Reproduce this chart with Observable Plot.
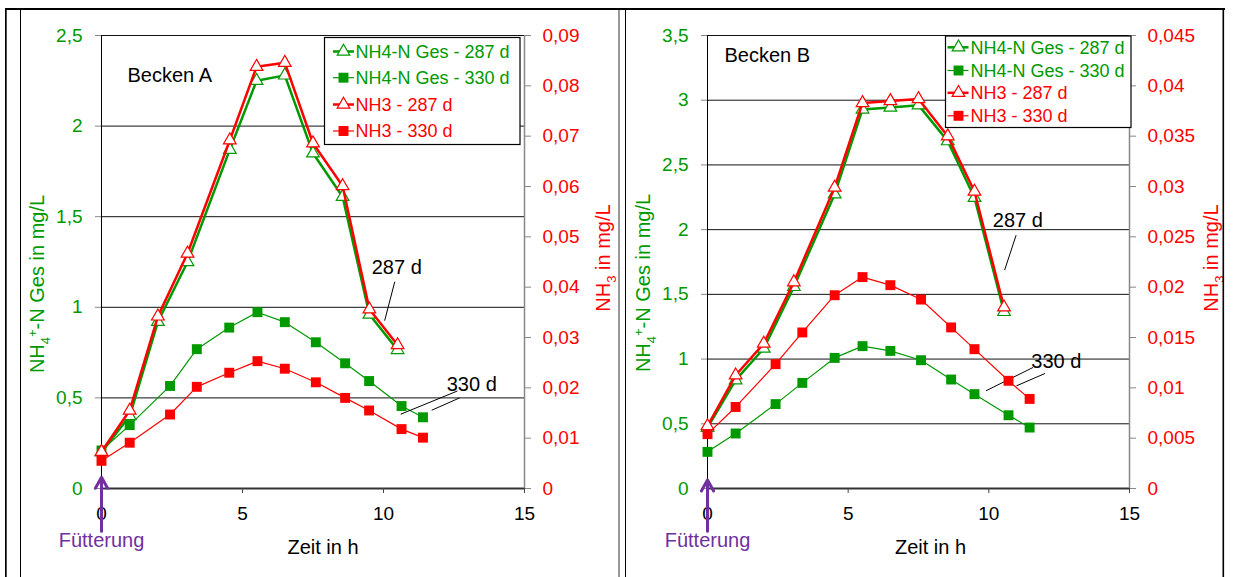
<!DOCTYPE html>
<html><head><meta charset="utf-8">
<script src="https://cdn.jsdelivr.net/npm/d3@7"></script>
<script src="https://cdn.jsdelivr.net/npm/@observablehq/plot@0.6"></script>
<style>
html,body{margin:0;padding:0;background:#fff;}
#root{position:relative;width:1237px;height:577px;overflow:hidden;font-family:"Liberation Sans",Arial,sans-serif;}
.abs{position:absolute;}
</style></head><body><div id="root"></div>
<script>
const GREEN = "#009900", RED = "#ff0000", PURPLE = "#7030a0";

// x axis
const xTicks = [0, 5, 10, 15];
const xTickLabels = ["0", "5", "10", "15"];

// Becken A
const tA287   = [0, 1.0, 2.0, 3.05, 4.55, 5.5, 6.5, 7.5, 8.55, 9.5, 10.5];
const nh4A287 = [0.2, 0.40, 0.92, 1.25, 1.87, 2.25, 2.28, 1.85, 1.61, 0.96, 0.765];
const nh3A287 = [0.0073, 0.0155, 0.0342, 0.0467, 0.0692, 0.0838, 0.0846, 0.0686, 0.0601, 0.0356, 0.0285];
const tA330   = [0, 1.0, 2.43, 3.38, 4.53, 5.53, 6.5, 7.6, 8.64, 9.49, 10.64, 11.4];
const nh4A330 = [0.21, 0.35, 0.566, 0.769, 0.888, 0.973, 0.918, 0.807, 0.691, 0.593, 0.455, 0.393];
const nh3A330 = [0.0055, 0.0091, 0.0147, 0.0202, 0.0230, 0.0253, 0.0238, 0.0211, 0.0180, 0.0155, 0.0118, 0.0101];

// Becken B
const tB287   = [0, 1.0, 2.0, 3.07, 4.52, 5.51, 6.5, 7.5, 8.54, 9.49, 10.54];
const nh4B287 = [0.47, 0.837, 1.082, 1.558, 2.274, 2.929, 2.944, 2.962, 2.684, 2.246, 1.365];
const nh3B287 = [0.0062, 0.01125, 0.0144, 0.0205, 0.0299, 0.0383, 0.0385, 0.0387, 0.035, 0.0295, 0.0180];
const tB330   = [0, 1.0, 2.42, 3.37, 4.52, 5.51, 6.5, 7.59, 8.66, 9.49, 10.7, 11.45];
const nh4B330 = [0.283, 0.425, 0.652, 0.816, 1.009, 1.10, 1.063, 0.991, 0.842, 0.729, 0.566, 0.471];
const nh3B330 = [0.0054, 0.0081, 0.01235, 0.0155, 0.0192, 0.021, 0.0202, 0.01877, 0.016, 0.01384, 0.0107, 0.0089];

// tick values and labels
const leftTicksA = [0, 0.5, 1, 1.5, 2, 2.5];
const leftTickLabelsA = ["0", "0,5", "1", "1,5", "2", "2,5"];
const rightTicksA = [0, 0.01, 0.02, 0.03, 0.04, 0.05, 0.06, 0.07, 0.08, 0.09];
const rightTickLabelsA = ["0", "0,01", "0,02", "0,03", "0,04", "0,05", "0,06", "0,07", "0,08", "0,09"];
const leftTicksB = [0, 0.5, 1, 1.5, 2, 2.5, 3, 3.5];
const leftTickLabelsB = ["0", "0,5", "1", "1,5", "2", "2,5", "3", "3,5"];
const rightTicksB = [0, 0.005, 0.01, 0.015, 0.02, 0.025, 0.03, 0.035, 0.04, 0.045];
const rightTickLabelsB = ["0", "0,005", "0,01", "0,015", "0,02", "0,025", "0,03", "0,035", "0,04", "0,045"];

const legendLabels = ["NH4-N Ges - 287 d", "NH4-N Ges - 330 d", "NH3 - 287 d", "NH3 - 330 d"];
const panelTitles = ["Becken A", "Becken B"];

// ---------------------------------------------------------------
const rows = (ts, vs) => ts.map((t, i) => ({t, v: vs[i]}));
const fmt = (ticks, labels) => { const m = new Map(ticks.map((t, i) => [t, labels[i]])); return d => m.get(d); };
const FONT = "'Liberation Sans', Arial, sans-serif";
const TRI_R = 4.7, SQ_R = 5.6;

function addTitle(svg, x, y, parts, color) {
  const t = d3.select(svg).append("text")
    .attr("transform", `translate(${x},${y}) rotate(-90)`)
    .attr("text-anchor", "middle").attr("fill", color)
    .attr("font-size", 20).attr("font-family", FONT);
  parts.forEach(p => t.append("tspan").attr("dy", p.dy || 0).attr("font-size", p.size || 20).text(p.s));
}

function panel(cfg) {
  const root = document.getElementById("root");
  const box = document.createElement("div");
  box.className = "abs";
  Object.assign(box.style, {left: cfg.left + "px", top: "0px", width: cfg.width + "px", height: "577px"});
  root.appendChild(box);
  const common = {
    width: cfg.width, height: 577, marginLeft: cfg.ml, marginRight: cfg.mr, marginTop: 35, marginBottom: 89,
    style: {background: "transparent", fontFamily: FONT, fontSize: "19px", overflow: "visible"}
  };
  const a = cfg.ann;
  const p1 = Plot.plot({
    ...common,
    x: {domain: [0, 15]},
    y: {domain: [cfg.leftTicks[0], cfg.leftTicks[cfg.leftTicks.length - 1]]},
    marks: [
      Plot.ruleY(cfg.leftTicks.slice(1), {stroke: "#111", strokeWidth: 1}),
      Plot.ruleY([0], {stroke: "#333", strokeWidth: 2}),
      Plot.ruleX([0], {stroke: "#000", strokeWidth: 1}),
      Plot.axisX(xTicks, {tickFormat: fmt(xTicks, xTickLabels), tickSize: 5, tickPadding: 13, stroke: "#444", fill: "#000", label: null}),
      Plot.axisY(cfg.leftTicks, {tickFormat: fmt(cfg.leftTicks, cfg.leftLabels), tickSize: 6, tickPadding: 13, stroke: "#888", fill: GREEN, label: null}),
      Plot.line(rows(cfg.t287, cfg.nh4287), {x: "t", y: "v", stroke: GREEN, strokeWidth: 2.5}),
      Plot.dot(rows(cfg.t287, cfg.nh4287), {x: "t", y: "v", symbol: "triangle", r: TRI_R, fill: "white", stroke: GREEN, strokeWidth: 1.2}),
      Plot.line(rows(cfg.t330, cfg.nh4330), {x: "t", y: "v", stroke: GREEN, strokeWidth: 1.2}),
      Plot.dot(rows(cfg.t330, cfg.nh4330), {x: "t", y: "v", symbol: "square", r: SQ_R, fill: GREEN}),
      Plot.link(a.links, {x1: "x1", y1: "y1", x2: "x2", y2: "y2", stroke: "#000", strokeWidth: 1}),
      Plot.text(a.texts, {x: "x", y: "y", text: "s", fontSize: 20, fill: "#000"}),
      Plot.arrow([a.arrow], {x1: "x1", y1: "y1", x2: "x2", y2: "y2", stroke: PURPLE, strokeWidth: 3, headLength: 6.3, headAngle: 58}),
      Plot.text(["Fütterung"], {x: () => 0, frameAnchor: "bottom", lineAnchor: "middle", dy: 52, fill: PURPLE, fontSize: 20}),
      Plot.text(["Zeit in h"], {frameAnchor: "bottom", lineAnchor: "middle", dx: cfg.zeitDx, dy: 59, fill: "#000", fontSize: 20}),
      Plot.text([cfg.title], {frameAnchor: "top-left", lineAnchor: "middle", dx: cfg.titleDx, dy: cfg.titleDy, textAnchor: "start", fill: "#000", fontSize: 20})
    ]
  });
  const p2 = Plot.plot({
    ...common,
    x: {domain: [0, 15], axis: null},
    y: {domain: [cfg.rightTicks[0], cfg.rightTicks[cfg.rightTicks.length - 1]]},
    marks: [
      Plot.ruleX([15], {stroke: "#888", strokeWidth: 1.5}),
      Plot.axisY(cfg.rightTicks, {anchor: "right", tickFormat: fmt(cfg.rightTicks, cfg.rightLabels), tickSize: 6, tickPadding: 12, stroke: "#888", fill: RED, label: null}),
      Plot.line(rows(cfg.t287, cfg.nh3287), {x: "t", y: "v", stroke: RED, strokeWidth: 2.5}),
      Plot.dot(rows(cfg.t287, cfg.nh3287), {x: "t", y: "v", symbol: "triangle", r: TRI_R, fill: "white", stroke: RED, strokeWidth: 1.2}),
      Plot.line(rows(cfg.t330, cfg.nh3330), {x: "t", y: "v", stroke: RED, strokeWidth: 1.2}),
      Plot.dot(rows(cfg.t330, cfg.nh3330), {x: "t", y: "v", symbol: "square", r: SQ_R, fill: RED})
    ]
  });
  [p1, p2].forEach(p => { p.style.position = "absolute"; p.style.left = "0px"; p.style.top = "0px"; box.appendChild(p); });
  addTitle(p1, cfg.lTitleX, cfg.lTitleY, [{s: "NH"}, {s: "4", size: 13, dy: 6}, {s: "+", size: 13, dy: -13}, {s: "-N Ges in mg/L", dy: 7}], GREEN);
  addTitle(p2, cfg.rTitleX, cfg.rTitleY, [{s: "NH"}, {s: "3", size: 13, dy: 6}, {s: " in mg/L", dy: -6}], RED);
}

panel({
  left: 0, width: 620, ml: 101, mr: 96, title: panelTitles[0], titleDx: 26, titleDy: 40, zeitDx: 10,
  t287: tA287, nh4287: nh4A287, nh3287: nh3A287, t330: tA330, nh4330: nh4A330, nh3330: nh3A330,
  leftTicks: leftTicksA, leftLabels: leftTickLabelsA, rightTicks: rightTicksA, rightLabels: rightTickLabelsA,
  lTitleX: 44, lTitleY: 284, rTitleX: 610, rTitleY: 258,
  ann: {
    texts: [{x: 10.47, y: 1.22, s: "287 d"}, {x: 13.13, y: 0.571, s: "330 d"}],
    links: [{x1: 10.4, y1: 1.141, x2: 10.04, y2: 0.926}, {x1: 12.62, y1: 0.538, x2: 10.61, y2: 0.41}, {x1: 12.7, y1: 0.5, x2: 11.71, y2: 0.432}],
    arrow: {x1: 0, y1: -0.236, x2: 0, y2: 0.062}
  }
});
panel({
  left: 620, width: 617, ml: 87, mr: 108, title: panelTitles[1], titleDx: 17, titleDy: 20, zeitDx: 12,
  t287: tB287, nh4287: nh4B287, nh3287: nh3B287, t330: tB330, nh4330: nh4B330, nh3330: nh3B330,
  leftTicks: leftTicksB, leftLabels: leftTickLabelsB, rightTicks: rightTicksB, rightLabels: rightTickLabelsB,
  lTitleX: 30, lTitleY: 283, rTitleX: 598, rTitleY: 258,
  ann: {
    texts: [{x: 11.03, y: 2.073, s: "287 d"}, {x: 12.4, y: 0.978, s: "330 d"}],
    links: [{x1: 10.97, y1: 1.957, x2: 10.56, y2: 1.687}, {x1: 11.57, y1: 0.935, x2: 9.9, y2: 0.755}, {x1: 12.0, y1: 0.889, x2: 10.98, y2: 0.793}],
    arrow: {x1: 0, y1: -0.33, x2: 0, y2: 0.066}
  }
});

// overlay: frame lines and legends
const ov = d3.select("#root").append("svg").attr("class", "abs")
  .style("left", "0px").style("top", "0px").attr("width", 1237).attr("height", 577)
  .style("pointer-events", "none").attr("font-family", FONT);
ov.append("rect").attr("x", 5).attr("y", 8).attr("width", 1220).attr("height", 2).attr("fill", "#000");
ov.append("rect").attr("x", 5).attr("y", 8).attr("width", 1.7).attr("height", 569).attr("fill", "#000");
ov.append("rect").attr("x", 20).attr("y", 10).attr("width", 1).attr("height", 567).attr("fill", "#000");
ov.append("rect").attr("x", 618).attr("y", 10).attr("width", 2).attr("height", 567).attr("fill", "#999");
ov.append("rect").attr("x", 625).attr("y", 10).attr("width", 1).attr("height", 567).attr("fill", "#000");
ov.append("rect").attr("x", 1222.5).attr("y", 8).attr("width", 1.6).attr("height", 569).attr("fill", "#000");

const legendItems = legendLabels.map((s, i) => ({
  s, color: i < 2 ? GREEN : RED, tri: i % 2 === 0, lw: i % 2 === 0 ? 2.5 : 1.2
}));
function drawLegend(bx, by, bw, bh, ys, lx1, lx2, mx, tx) {
  const g = ov.append("g");
  g.append("rect").attr("x", bx).attr("y", by).attr("width", bw).attr("height", bh)
    .attr("fill", "#fff").attr("stroke", "#000").attr("stroke-width", 1.2);
  legendItems.forEach((it, i) => {
    const y = ys[i];
    g.append("line").attr("x1", lx1).attr("x2", lx2).attr("y1", y).attr("y2", y).attr("stroke", it.color).attr("stroke-width", it.lw);
    const path = it.tri ? d3.symbol(d3.symbolTriangle, Math.PI * TRI_R * TRI_R)() : d3.symbol(d3.symbolSquare, Math.PI * SQ_R * SQ_R)();
    g.append("path").attr("d", path).attr("transform", `translate(${mx},${y})`)
      .attr("fill", it.tri ? "#fff" : it.color).attr("stroke", it.tri ? it.color : "none").attr("stroke-width", 1.2);
    g.append("text").attr("x", tx).attr("y", y).attr("dy", "0.35em").attr("font-size", 18).attr("fill", it.color).text(it.s);
  });
}
drawLegend(324.5, 37.5, 195.5, 107, [51.5, 77.7, 104.5, 131], 333, 354, 343.5, 355.5);
drawLegend(945.5, 36, 185.5, 91.5, [47.3, 70.5, 92.8, 115.8], 947.5, 968.5, 958.5, 970.5);
</script></body></html>
